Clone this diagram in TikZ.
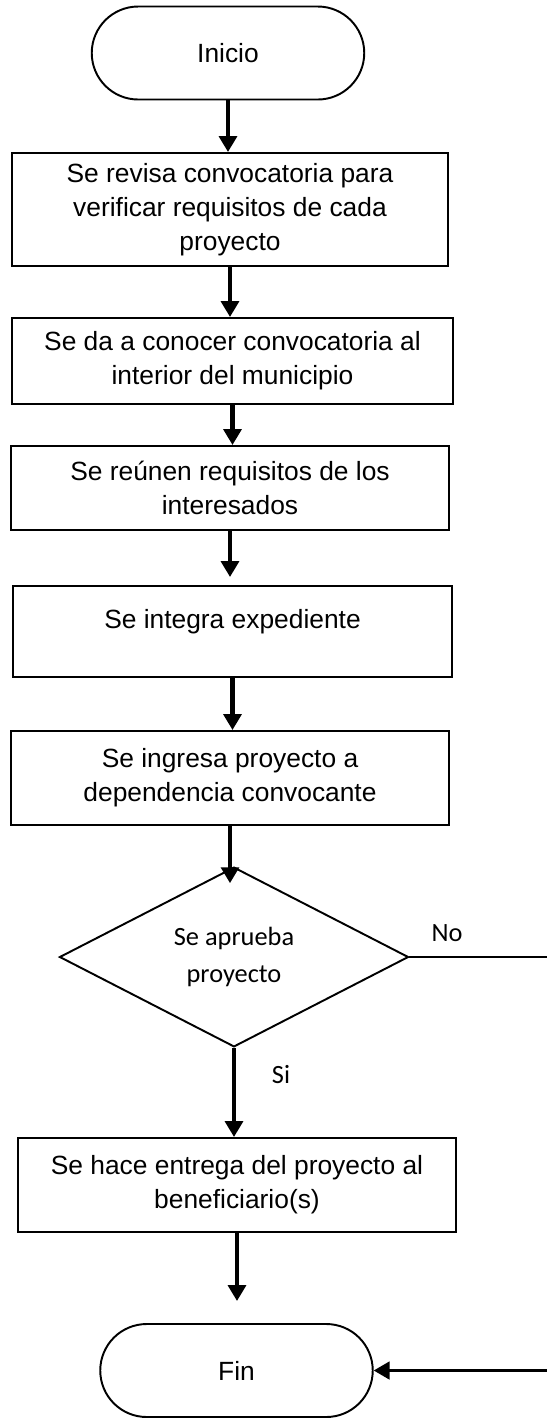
\documentclass[tikz,border=0pt]{standalone}
\usepackage{fontspec}
\setmainfont{Liberation Sans}
\newfontfamily\decfont{Carlito}
\usetikzlibrary{arrows.meta, positioning, calc, shapes.geometric}

\begin{document}
\begin{tikzpicture}[>={Triangle[width=10pt, length=9pt]},
  box/.style={draw, line width=1.1pt, align=center, font=\fontsize{15}{19.4}\selectfont},
  term/.style={box, rounded corners=0.93cm, minimum width=5.45cm, minimum height=1.86cm},
  decision/.style={draw, diamond, line width=1.1pt, align=center, minimum width=6.98cm,
    minimum height=3.5cm, inner sep=0pt, font=\decfont\fontsize{15}{21}\selectfont},
  flow/.style={->, line width=2.4pt}]
  \useasboundingbox (0,0) rectangle (10.94,-28.36);

  % Start and end
  \node[term] (inicio) at (4.56,-1.06) {Inicio};
  \node[term] (fin) at (4.73,-27.41) {Fin};

  % Process steps
  \node[box, minimum width=8.72cm, minimum height=2.26cm] (revisa) at (4.60,-4.19)
    {Se revisa convocatoria para\\verificar requisitos de cada\\proyecto};
  \node[box, minimum width=8.82cm, minimum height=1.72cm] (difunde) at (4.65,-7.22)
    {Se da a conocer convocatoria al\\interior del municipio};
  \node[box, minimum width=8.76cm, minimum height=1.68cm] (reune) at (4.60,-9.76)
    {Se re\'unen requisitos de los\\interesados};
  \node[box, minimum width=8.78cm, minimum height=1.82cm] (integra) at (4.65,-12.63) {};
  \node[font=\fontsize{15}{19.4}\selectfont] (integratxt) at (4.65,-12.44) {Se integra expediente};
  \node[box, minimum width=8.76cm, minimum height=1.88cm] (ingresa) at (4.60,-15.56)
    {Se ingresa proyecto a\\dependencia convocante};

  % Decision
  \node[decision] (aprueba) at (4.68,-19.14) {Se aprueba\\proyecto};

  \node[box, minimum width=8.76cm, minimum height=1.88cm] (entrega) at (4.74,-23.70)
    {Se hace entrega del proyecto al\\beneficiario(s)};

  % Arrows
  \draw[flow] (inicio.south) -- (inicio.south |- revisa.north);
  \draw[flow] (revisa.south) -- (revisa.south |- difunde.north);
  \draw[flow] (difunde.south) -- (difunde.south |- reune.north);
  \draw[flow, shorten >=0.16cm] (reune.south) -- (reune.south |- integra.north);
  \draw[flow] (integra.south) -- (integra.south |- ingresa.north);
  \draw[flow, shorten >=-0.34cm] (ingresa.south) -- (ingresa.south |- aprueba.north);
  \draw[flow] (aprueba.south) -- (aprueba.south |- entrega.north)
    node[pos=0.3, right=0.6cm, font=\decfont\fontsize{15}{17}\selectfont] {Si};
  \draw[flow, shorten >=0.44cm] (entrega.south) -- (entrega.south |- fin.north);

  % No branch, running off the right edge
  \coordinate (ret) at (11.2,-19.14);
  \draw[flow, line width=1.6pt] (aprueba.east) -- (ret) |- (fin.east);
  \node[font=\decfont\fontsize{15}{17}\selectfont] (no) at (8.94,-18.66) {No};
\end{tikzpicture}
\end{document}
